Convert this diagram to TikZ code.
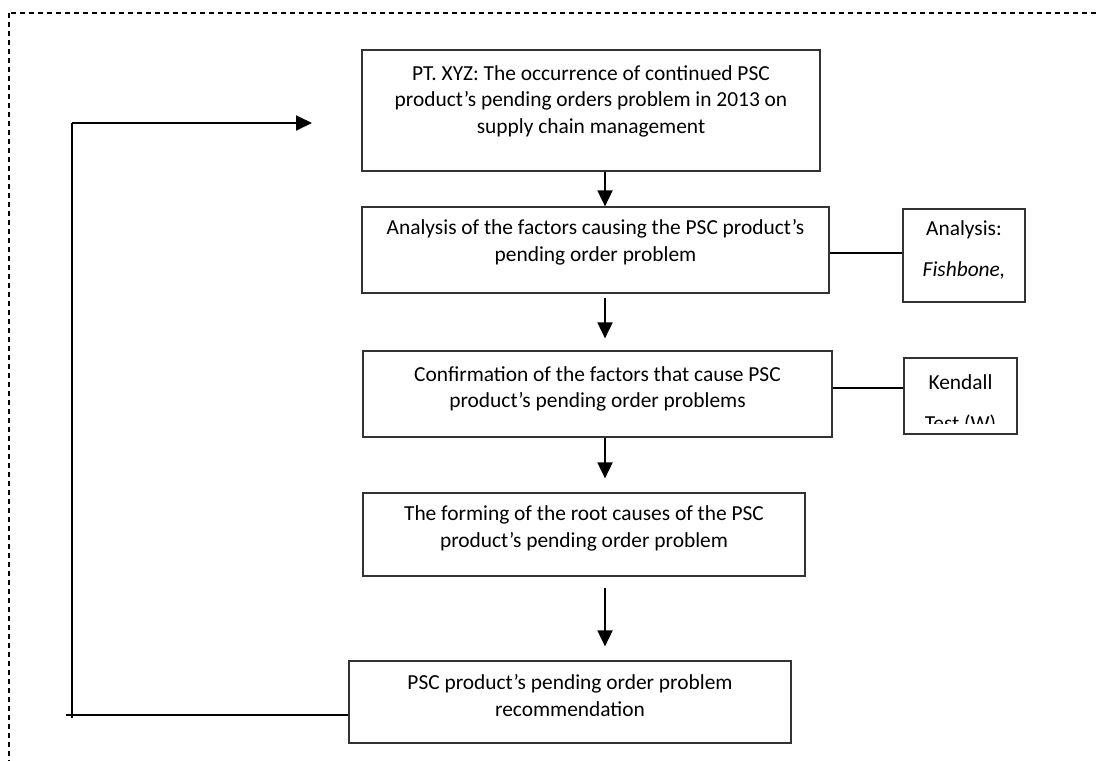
\documentclass[tikz,border=0pt]{standalone}
\usepackage{fontspec}
\setmainfont{Carlito}
\usepackage{tikz}
\usetikzlibrary{arrows.meta,positioning}

\begin{document}
\begin{tikzpicture}[
  x=0.5pt, y=-0.5pt,
  font=\fontsize{10.7}{13.35}\selectfont,
  box/.style={draw=black!80, line width=0.6pt, align=center, inner sep=0pt},
  side/.style={box},
  conn/.style={line width=0.9pt},
  arr/.style={conn, -{Triangle[length=8pt, width=7.5pt]}},
  frame/.style={line width=0.6pt, dash pattern=on 2.5pt off 2pt},
]
  \useasboundingbox (0,0) rectangle (1096,760);
  \begin{scope}
    \clip (0,0) rectangle (1096,760);
    \draw[frame] (9,13) rectangle (1200,900);
  \end{scope}

  % ---------------- main column ----------------
  \node[box, minimum width=229pt, minimum height=60.5pt, text depth=11pt] (problem) at (591,110.5)
    {PT. XYZ: The occurrence of continued PSC\\ product’s pending orders problem in 2013 on\\ supply chain management};
  \node[box, minimum width=233.5pt, minimum height=43pt, text depth=9.5pt] (analysis) at (595.5,250)
    {Analysis of the factors causing the PSC product’s\\ pending order problem};
  \node[box, minimum width=234.5pt, minimum height=43pt, text depth=7pt] (confirm) at (597.5,394)
    {Confirmation of the factors that cause PSC\\ product’s pending order problems};
  \node[box, minimum width=221pt, minimum height=41.5pt, text depth=8pt] (rootcause) at (584,534.5)
    {The forming of the root causes of the PSC\\ product’s pending order problem};
  \node[box, minimum width=221pt, minimum height=41pt, text depth=6.5pt] (recom) at (570,702)
    {PSC product’s pending order problem\\ recommendation};

  % ---------------- side tools ----------------
  \node[side, minimum width=61pt, minimum height=46.5pt, text depth=7pt] (fishbone) at (964,255.5)
    {Analysis:\\[7pt] \textit{Fishbone,}};
  \node[side, minimum width=56.5pt, minimum height=38pt] (kendall) at (960.5,396) {};
  \begin{scope}
    \clip (kendall.north west) rectangle ([yshift=5.5pt]kendall.south east);
    \node[align=center, inner sep=0pt, anchor=north, yshift=-8.5pt] (kendalltxt) at (kendall.north)
      {Kendall\\[7pt] Test (W)};
  \end{scope}

  % ---------------- connectors ----------------
  \coordinate (col) at (605,0);
  \draw[arr] (problem.south -| col) -- (analysis.north -| col);
  \draw[arr, shorten <=2pt, shorten >=6pt] (analysis.south -| col) -- (confirm.north -| col);
  \draw[arr, shorten >=7pt] (confirm.south -| col) -- (rootcause.north -| col);
  \draw[arr, shorten <=5.5pt, shorten >=7pt] (rootcause.south -| col) -- (recom.north -| col);
  \draw[conn] (analysis.east |- 0,253) -- (fishbone.west |- 0,253);
  \draw[conn] (confirm.east |- 0,388) -- (kendall.west |- 0,388);

  % feedback loop back to the top
  \coordinate (fbin) at (66,715);
  \coordinate (fbfoot) at (72,718);
  \coordinate (fbtop) at (72,123);
  \coordinate (fbtip) at (312,123);
  \draw[conn] ([yshift=-6.5pt]recom.west) -- (fbin);
  \draw[conn] (fbfoot) -- (fbtop);
  \draw[arr] (fbtop) -- (fbtip);
\end{tikzpicture}
\end{document}
